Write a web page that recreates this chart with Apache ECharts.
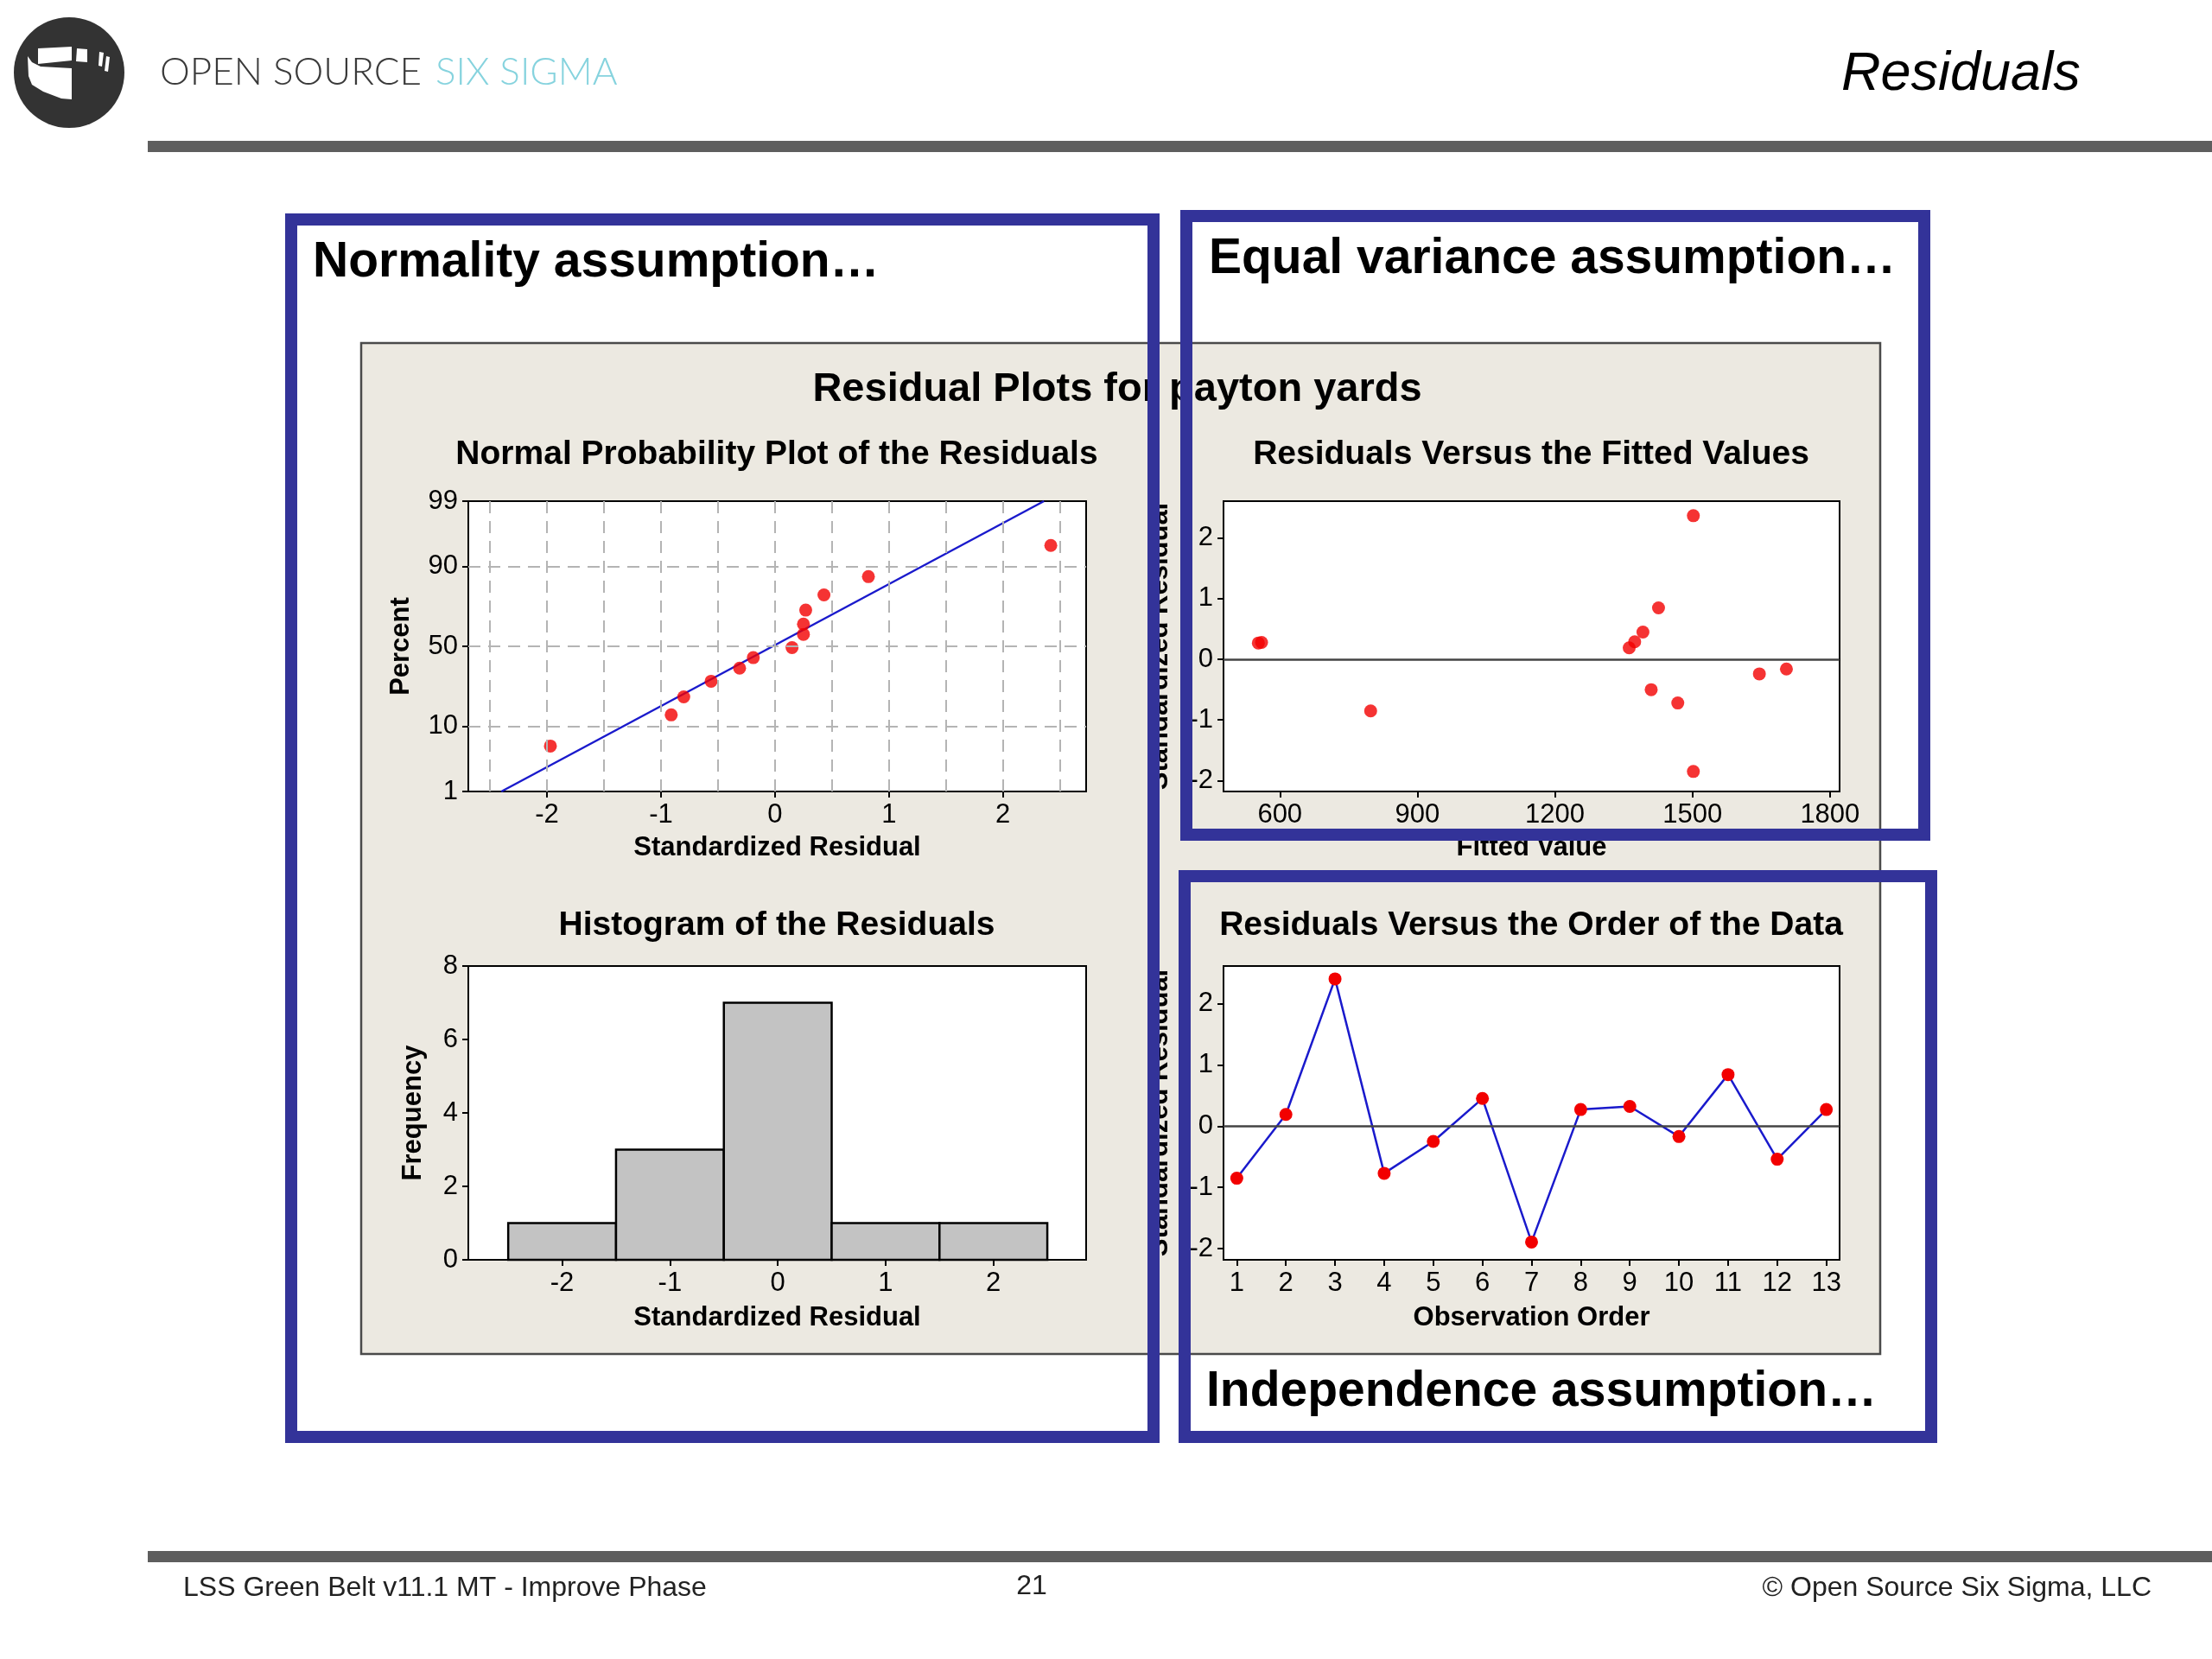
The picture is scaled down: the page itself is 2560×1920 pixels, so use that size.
<!DOCTYPE html>
<html><head><meta charset="utf-8">
<script src="https://cdn.jsdelivr.net/npm/echarts@6/dist/echarts.min.js"></script>
<style>html,body{margin:0;padding:0;background:#fff}#c{width:2560px;height:1920px}</style>
</head><body><div id="c"></div>
<script>
// ---------- data ----------
const normResid   = [-1.97, -0.91, -0.80, -0.56, -0.31, -0.19, 0.15, 0.25, 0.25, 0.27, 0.43, 0.82, 2.42];
const normPercent = [5.5, 13.6, 20.9, 28.8, 36.3, 42.8, 49.2, 57.6, 63.9, 71.9, 79.5, 86.8, 94.7];
const normYTicks  = [1, 10, 50, 90, 99];
const normXTicks  = [-2, -1, 0, 1, 2];
const normXGrid   = [-2.5, -2, -1.5, -1, -0.5, 0, 0.5, 1, 1.5, 2, 2.5];
const normYGrid   = [10, 50, 90];
const fitLineResid   = [-2.40, 2.36];
const fitLinePercent = [1, 99];

const fittedValues = [553, 560, 798, 1362, 1374, 1392, 1426, 1410, 1468, 1502, 1502, 1646, 1705];
const fittedResid  = [0.27, 0.28, -0.85, 0.19, 0.29, 0.45, 0.85, -0.50, -0.72, 2.37, -1.85, -0.24, -0.16];
const fittedXTicks = [600, 900, 1200, 1500, 1800];
const residTicks   = [-2, -1, 0, 1, 2];

const histCenters  = [-2, -1, 0, 1, 2];
const histCounts   = [1, 3, 7, 1, 1];
const histBinWidth = 1;
const histXTicks   = [-2, -1, 0, 1, 2];

const orderIndex = [1, 2, 3, 4, 5, 6, 7, 8, 9, 10, 11, 12, 13];
const orderResid = [-0.85, 0.19, 2.40, -0.77, -0.25, 0.45, -1.89, 0.27, 0.32, -0.17, 0.84, -0.54, 0.27];

// ---------- helpers ----------
function probit(p) {
  const a=[-3.969683028665376e+01,2.209460984245205e+02,-2.759285104469687e+02,1.383577518672690e+02,-3.066479806614716e+01,2.506628277459239e+00];
  const b=[-5.447609879822406e+01,1.615858368580409e+02,-1.556989798598866e+02,6.680131188771972e+01,-1.328068155288572e+01];
  const c=[-7.784894002430293e-03,-3.223964580411365e-01,-2.400758277161838e+00,-2.549732539343734e+00,4.374664141464968e+00,2.938163982698783e+00];
  const d=[7.784695709041462e-03,3.224671290700398e-01,2.445134137142996e+00,3.754408661907416e+00];
  const pl=0.02425, ph=1-pl; let q, r;
  if (p < pl) { q=Math.sqrt(-2*Math.log(p)); return (((((c[0]*q+c[1])*q+c[2])*q+c[3])*q+c[4])*q+c[5])/((((d[0]*q+d[1])*q+d[2])*q+d[3])*q+1); }
  if (p > ph) { q=Math.sqrt(-2*Math.log(1-p)); return -(((((c[0]*q+c[1])*q+c[2])*q+c[3])*q+c[4])*q+c[5])/((((d[0]*q+d[1])*q+d[2])*q+d[3])*q+1); }
  q=p-0.5; r=q*q; return (((((a[0]*r+a[1])*r+a[2])*r+a[3])*r+a[4])*r+a[5])*q/(((((b[0]*r+b[1])*r+b[2])*r+b[3])*r+b[4])*r+1);
}
const z = p => probit(p / 100);

const MF = '"Liberation Sans", Arial, sans-serif';
const TF = '"Liberation Sans Narrow", "Liberation Sans", Arial, sans-serif';
const BLACK = '#000';
const RED = '#f20000';
const BLUE = '#1a1acc';
const FRAME = '#333399';
const labelStyle = { margin: 12, fontFamily: TF, fontSize: 31, color: BLACK, formatter: v => String(v) };

function axis(gridIndex, min, max, ticks, name, nameGap, extra) {
  return Object.assign({
    type: 'value', gridIndex, min, max,
    axisLine: { show: false, onZero: false },
    axisTick: { show: true, inside: false, length: 7, lineStyle: { color: BLACK, width: 2 }, customValues: ticks },
    axisLabel: Object.assign({ customValues: ticks }, labelStyle, { margin: 12 }),
    splitLine: { show: false },
    name, nameLocation: 'middle', nameGap,
    nameTextStyle: { fontFamily: MF, fontWeight: 'bold', fontSize: 31, color: BLACK }
  }, extra || {});
}

const zMin = z(normYTicks[0]) - 1e-7, zMax = z(normYTicks[normYTicks.length - 1]) + 1e-7;
const zTickVals = normYTicks.map(z);

const gridBase = { show: true, backgroundColor: '#fff', borderColor: BLACK, borderWidth: 2, containLabel: false };

const option = {
  animation: false,
  backgroundColor: '#fff',
  grid: [
    Object.assign({ left: 542, top: 580, width: 715, height: 336 }, gridBase),
    Object.assign({ left: 1416, top: 580, width: 713, height: 336 }, gridBase),
    Object.assign({ left: 542, top: 1118, width: 715, height: 340 }, gridBase),
    Object.assign({ left: 1416, top: 1118, width: 713, height: 340 }, gridBase)
  ],
  xAxis: [
    axis(0, -2.69, 2.73, normXTicks, 'Standardized Residual', 50),
    axis(1, 477, 1821, fittedXTicks, 'Fitted Value', 50),
    axis(2, -2.87, 2.86, histXTicks, 'Standardized Residual', 52),
    axis(3, 0.73, 13.27, orderIndex, 'Observation Order', 52)
  ],
  yAxis: [
    axis(0, zMin, zMax, zTickVals, 'Percent', 62, {
      axisLabel: Object.assign({}, labelStyle, { customValues: zTickVals,
        formatter: v => { let best = 0; zTickVals.forEach((t, i) => { if (Math.abs(t - v) < Math.abs(zTickVals[best] - v)) best = i; }); return String(normYTicks[best]); } })
    }),
    axis(1, -2.18, 2.61, residTicks, 'Standardized Residual', 58),
    axis(2, 0, 8, null, 'Frequency', 48, {
      interval: 2,
      axisTick: { show: true, inside: false, length: 7, lineStyle: { color: BLACK, width: 2 } },
      axisLabel: Object.assign({}, labelStyle)
    }),
    axis(3, -2.18, 2.61, residTicks, 'Standardized Residual', 58)
  ],
  series: [
    { // dashed reference grid of the probability plot
      type: 'line', xAxisIndex: 0, yAxisIndex: 0, data: [], silent: true, z: 1,
      markLine: {
        silent: true, symbol: ['none', 'none'], label: { show: false },
        lineStyle: { type: [14, 9], color: '#b4b4b4', width: 2 },
        data: normXGrid.map(v => ({ xAxis: v })).concat(normYGrid.map(p => ({ yAxis: z(p) })))
      }
    },
    {
      type: 'line', xAxisIndex: 0, yAxisIndex: 0, z: 3, symbol: 'none',
      lineStyle: { color: BLUE, width: 2.5 },
      data: fitLineResid.map((x, i) => [x, z(fitLinePercent[i])])
    },
    {
      type: 'scatter', xAxisIndex: 0, yAxisIndex: 0, z: 4, symbolSize: 15,
      itemStyle: { color: RED },
      data: normResid.map((x, i) => [x, z(normPercent[i])])
    },
    {
      type: 'scatter', xAxisIndex: 1, yAxisIndex: 1, z: 4, symbolSize: 15,
      itemStyle: { color: RED },
      data: fittedValues.map((x, i) => [x, fittedResid[i]]),
      markLine: { silent: true, symbol: ['none', 'none'], label: { show: false },
        lineStyle: { type: 'solid', color: '#444', width: 2.5 }, data: [{ yAxis: 0 }] }
    },
    {
      type: 'custom', xAxisIndex: 2, yAxisIndex: 2, z: 3,
      data: histCenters.map((c, i) => [c - histBinWidth / 2, c + histBinWidth / 2, histCounts[i]]),
      encode: { x: [0, 1], y: 2 },
      renderItem: (params, api) => {
        const p0 = api.coord([api.value(0), api.value(2)]);
        const p1 = api.coord([api.value(1), 0]);
        return { type: 'rect', shape: { x: p0[0], y: p0[1], width: p1[0] - p0[0], height: p1[1] - p0[1] },
          style: { fill: '#c3c3c3', stroke: BLACK, lineWidth: 2.5 } };
      }
    },
    {
      type: 'line', xAxisIndex: 3, yAxisIndex: 3, z: 4,
      symbol: 'circle', symbolSize: 15, showSymbol: true,
      itemStyle: { color: RED },
      lineStyle: { color: BLUE, width: 2.5 },
      data: orderIndex.map((o, i) => [o, orderResid[i]]),
      markLine: { silent: true, symbol: ['none', 'none'], label: { show: false },
        lineStyle: { type: 'solid', color: '#444', width: 2.5 }, data: [{ yAxis: 0 }] }
    }
  ],
  graphic: { elements: [] }
};

function txt(x, y, text, font, fill, align, valign, zz) {
  return { type: 'text', x, y, z: zz || 5, silent: true,
    style: { text, font, fill, align, textAlign: align, verticalAlign: valign || 'middle', textVerticalAlign: valign || 'middle' } };
}
function poly(points, fill, zz) { return { type: 'polygon', z: zz || 5, silent: true, shape: { points }, style: { fill } }; }

const G = option.graphic.elements;
// Minitab panel
G.push({ type: 'rect', z: -10, silent: true, shape: { x: 418, y: 397, width: 1758, height: 1170 }, style: { fill: '#ece9e1', stroke: '#4a4a4a', lineWidth: 2.5 } });
// logo
G.push({ type: 'circle', z: 5, silent: true, shape: { cx: 80, cy: 84, r: 64 }, style: { fill: '#333333' } });
G.push(poly([[44,56],[83,54],[83,70],[44,74]], '#fff', 6));
G.push(poly([[32,65],[37,72],[47,77],[83,79],[83,115],[71,114],[50,106],[37,98],[33,88]], '#fff', 6));
G.push(poly([[89,56],[101,57],[101,72],[88,71]], '#fff', 6));
G.push(poly([[115,60],[120,61],[118,77],[114,76]], '#fff', 6));
G.push(poly([[123,65],[127,66],[125,83],[121,82]], '#fff', 6));
// header
G.push(txt(185, 84, 'OPEN SOURCE', '300 44px Lato, "Open Sans", sans-serif', '#3a3a3a', 'left'));
G.push(txt(504, 84, 'SIX SIGMA', '300 44px Lato, "Open Sans", sans-serif', '#86d3de', 'left'));
G.push(txt(2131, 86, 'Residuals', 'italic 63px "Liberation Sans", Arial, sans-serif', '#000', 'left'));
G.push({ type: 'rect', z: 5, silent: true, shape: { x: 171, y: 163, width: 2389, height: 13 }, style: { fill: '#5e5e5e' } });
// footer
G.push({ type: 'rect', z: 5, silent: true, shape: { x: 171, y: 1795, width: 2389, height: 13 }, style: { fill: '#5e5e5e' } });
G.push(txt(212, 1838, 'LSS Green Belt v11.1 MT - Improve Phase', '32px "Liberation Sans", Arial, sans-serif', '#222', 'left'));
G.push(txt(1194, 1836, '21', '32px "Liberation Sans", Arial, sans-serif', '#222', 'center'));
G.push(txt(2490, 1838, '\u00a9 Open Source Six Sigma, LLC', '32px "Liberation Sans", Arial, sans-serif', '#222', 'right'));
// Minitab titles
G.push(txt(1293, 451, 'Residual Plots for payton yards', 'bold 47px ' + MF, '#000', 'center'));
G.push(txt(899, 526, 'Normal Probability Plot of the Residuals', 'bold 39px ' + MF, '#000', 'center'));
G.push(txt(1772, 526, 'Residuals Versus the Fitted Values', 'bold 39px ' + MF, '#000', 'center'));
G.push(txt(899, 1071, 'Histogram of the Residuals', 'bold 39px ' + MF, '#000', 'center'));
G.push(txt(1772, 1071, 'Residuals Versus the Order of the Data', 'bold 39px ' + MF, '#000', 'center'));
// blue frames
function frame(x0, y0, x1, y1) {
  const w = 14;
  return { type: 'rect', z: 100, silent: true, shape: { x: x0 + w / 2, y: y0 + w / 2, width: x1 - x0 - w, height: y1 - y0 - w }, style: { fill: 'none', stroke: FRAME, lineWidth: w } };
}
G.push(frame(330, 247, 1342, 1670));
G.push(frame(1366, 243, 2234, 973));
G.push(frame(1364, 1007, 2242, 1670));
G.push(txt(362, 304, 'Normality assumption\u2026', 'bold 57px "Liberation Sans", Arial, sans-serif', '#000', 'left', 'middle', 101));
G.push(txt(1399, 300, 'Equal variance assumption\u2026', 'bold 57px "Liberation Sans", Arial, sans-serif', '#000', 'left', 'middle', 101));
G.push(txt(1396, 1611, 'Independence assumption\u2026', 'bold 57px "Liberation Sans", Arial, sans-serif', '#000', 'left', 'middle', 101));

const chart = echarts.init(document.getElementById('c'), null, { renderer: 'canvas', width: 2560, height: 1920 });
chart.setOption(option);
</script>
</body></html>
